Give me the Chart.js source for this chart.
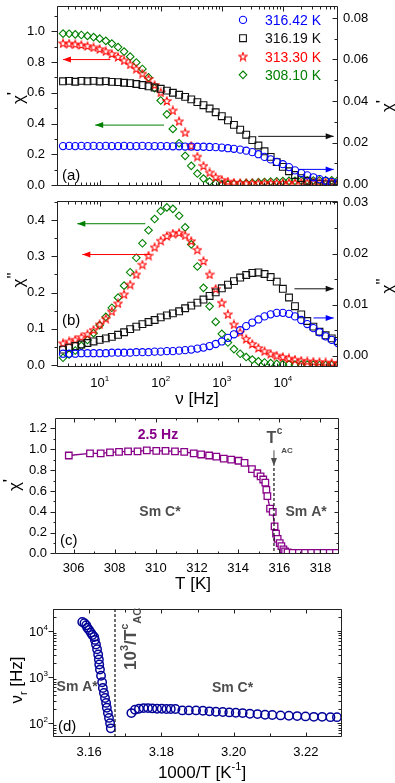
<!DOCTYPE html>
<html lang="en">
<head>
<meta charset="UTF-8">
<title>AC susceptibility</title>
<script src="https://cdn.jsdelivr.net/npm/chart.js"></script>
<style>
  body { margin: 0; background: #fff; }
  #fig { position: relative; width: 395px; height: 783px; }
  #fig canvas { position: absolute; left: 0; }
</style>
</head>
<body>
<div id="fig">
  <canvas id="chartA" width="395" height="195" style="top:0"></canvas>
  <canvas id="chartB" width="395" height="215" style="top:195px"></canvas>
  <canvas id="chartC" width="395" height="185" style="top:410px"></canvas>
  <canvas id="chartD" width="395" height="188" style="top:595px"></canvas>
</div>
<script>
// ---- data ----
const freqHz = [2.51, 3.16, 3.98, 5.01, 6.31, 7.94,
  10.0, 12.6, 15.8, 20.0, 25.1, 31.6, 39.8, 50.1, 63.1, 79.4,
  100, 126, 158, 200, 251, 316, 398, 501, 631, 794,
  1000, 1260, 1580, 2000, 2510, 3160, 3980, 5010, 6310, 7940,
  10000, 12600, 15800, 20000, 25100, 31600, 39800, 50100, 63100, 79400];

// (a) chi' vs frequency
const chiRe_31642 = [0.0183, 0.0184, 0.0183, 0.0184, 0.0183, 0.0184,
  0.0183, 0.0184, 0.0183, 0.0183, 0.0184, 0.0183, 0.0183, 0.0184, 0.0183, 0.0183,
  0.0183, 0.0183, 0.0182, 0.0182, 0.0181, 0.0181, 0.0180, 0.0180, 0.0179, 0.0178,
  0.0176, 0.0173, 0.0170, 0.0166, 0.0161, 0.0154, 0.0144, 0.0131, 0.0119, 0.0107,
  0.0096, 0.0082, 0.0066, 0.0053, 0.0042, 0.0033, 0.0024, 0.0016, 0.0010, 0.0005];
const chiRe_31619 = [0.0495, 0.0497, 0.0493, 0.0497, 0.0495, 0.0497,
  0.0494, 0.0496, 0.0492, 0.0491, 0.0488, 0.0486, 0.0482, 0.0477, 0.0471, 0.0465,
  0.0459, 0.0450, 0.0440, 0.0430, 0.0420, 0.0408, 0.0395, 0.0380, 0.0364, 0.0346,
  0.0327, 0.0307, 0.0285, 0.0262, 0.0238, 0.0212, 0.0186, 0.0158, 0.0131, 0.0106,
  0.0083, 0.0062, 0.0044, 0.0029, 0.0016, 0.0007, 0.0002, -0.0001, -0.0002, -0.0002];
const chiRe_31330 = [0.922, 0.920, 0.916, 0.911, 0.904, 0.895,
  0.884, 0.870, 0.853, 0.833, 0.810, 0.784, 0.756, 0.725, 0.690, 0.650,
  0.602, 0.547, 0.485, 0.415, 0.342, 0.255, 0.185, 0.125, 0.082, 0.052,
  0.034, 0.023, 0.016, 0.013, 0.012, 0.012, 0.012, 0.013, 0.013, 0.014,
  0.014, 0.015, 0.015, 0.016, 0.016, 0.017, 0.017, 0.018, 0.018, 0.019];
const chiRe_30810 = [0.985, 0.984, 0.980, 0.976, 0.970, 0.962,
  0.952, 0.938, 0.920, 0.897, 0.868, 0.835, 0.797, 0.755, 0.700, 0.630,
  0.550, 0.460, 0.365, 0.272, 0.190, 0.125, 0.075, 0.042, 0.022, 0.011,
  0.006, 0.006, 0.008, 0.010, 0.013, 0.015, 0.018, 0.020, 0.022, 0.024,
  0.026, 0.027, 0.028, 0.029, 0.030, 0.030, 0.031, 0.031, 0.031, 0.031];

// (b) chi'' vs frequency
const chiIm_31642 = [0.0004, 0.0004, 0.0004, 0.0005, 0.0005, 0.0005,
  0.0005, 0.0005, 0.0006, 0.0006, 0.0006, 0.0006, 0.0007, 0.0007, 0.0007, 0.0008,
  0.0008, 0.0009, 0.0009, 0.0010, 0.0011, 0.0012, 0.0014, 0.0016, 0.0019, 0.0023,
  0.0028, 0.0035, 0.0042, 0.0050, 0.0058, 0.0065, 0.0071, 0.0077, 0.0081, 0.0084,
  0.0084, 0.0082, 0.0077, 0.0070, 0.0062, 0.0054, 0.0046, 0.0038, 0.0031, 0.0025];
const chiIm_31619 = [0.0012, 0.0016, 0.0019, 0.0022, 0.0025, 0.0028,
  0.0031, 0.0034, 0.0037, 0.0041, 0.0046, 0.0052, 0.0057, 0.0062, 0.0066, 0.0070,
  0.0075, 0.0079, 0.0083, 0.0087, 0.0093, 0.0098, 0.0104, 0.0110, 0.0117, 0.0124,
  0.0132, 0.0139, 0.0146, 0.0153, 0.0158, 0.0162, 0.0163, 0.0160, 0.0154, 0.0145,
  0.0131, 0.0114, 0.0097, 0.0081, 0.0068, 0.0057, 0.0047, 0.0040, 0.0034, 0.0029];
const chiIm_31330 = [0.060, 0.065, 0.070, 0.077, 0.085, 0.097,
  0.112, 0.128, 0.148, 0.170, 0.195, 0.222, 0.250, 0.277, 0.302, 0.325,
  0.343, 0.356, 0.363, 0.365, 0.358, 0.342, 0.318, 0.287, 0.250, 0.210,
  0.172, 0.140, 0.112, 0.090, 0.072, 0.058, 0.047, 0.038, 0.031, 0.026,
  0.022, 0.018, 0.015, 0.012, 0.010, 0.009, 0.008, 0.007, 0.006, 0.005];
const chiIm_30810 = [0.020, 0.029, 0.040, 0.053, 0.069, 0.088,
  0.110, 0.133, 0.158, 0.186, 0.219, 0.256, 0.296, 0.336, 0.372, 0.403,
  0.425, 0.435, 0.431, 0.412, 0.380, 0.333, 0.272, 0.213, 0.162, 0.119,
  0.086, 0.062, 0.044, 0.031, 0.022, 0.015, 0.010, 0.007, 0.005, 0.003,
  0.002, 0.002, 0.001, 0.001, 0.001, 0.001, 0.000, 0.000, 0.000, 0.000];

// (c) chi' at 2.5 Hz vs temperature
const tempK = [305.77, 306.80, 307.32, 307.77, 308.21, 308.65, 309.11, 309.56, 310.02, 310.47,
  310.93, 311.38, 311.84, 312.20, 312.59, 312.94, 313.30, 313.66, 314.02, 314.31,
  314.67, 314.93, 315.09, 315.22, 315.32, 315.37, 315.42, 315.55, 315.68, 315.77,
  315.84, 315.92, 316.02, 316.10, 316.20, 316.28, 316.40, 316.65, 316.95, 317.25,
  317.55, 317.85, 318.15, 318.45, 318.75];
const chiRe_2p5Hz = [0.94, 0.96, 0.96, 0.97, 0.975, 0.98, 0.98, 0.99, 0.985, 0.985,
  0.98, 0.975, 0.96, 0.95, 0.94, 0.93, 0.91, 0.90, 0.89, 0.87,
  0.81, 0.77, 0.74, 0.71, 0.68, 0.61, 0.55, 0.43, 0.40, 0.26,
  0.19, 0.14, 0.10, 0.07, 0.04, 0.02, 0.01, 0.006, 0.005, 0.005,
  0.005, 0.005, 0.005, 0.005, 0.005];

// (d) relaxation frequency vs 1000/T
const invT_SmA = [3.1581, 3.1587, 3.1592, 3.1595, 3.1600, 3.1605, 3.1609, 3.1614, 3.1616, 3.1619,
  3.1622, 3.1625, 3.1627, 3.1628, 3.1630, 3.1633, 3.1636, 3.1638, 3.1641, 3.1644,
  3.1647, 3.1649, 3.1652, 3.1655, 3.1658, 3.1660];
const nuR_SmA = [15700, 14700, 13300, 11800, 10500, 9200, 8200, 7400, 6400, 5100,
  4000, 3100, 2400, 1870, 1450, 1070, 770, 580, 450, 350,
  275, 215, 165, 130, 100, 77];
const invT_SmC = [3.1717, 3.1727, 3.1738, 3.1751, 3.1763, 3.1775, 3.1788, 3.1801, 3.1814, 3.1826,
  3.1839, 3.1858, 3.1876, 3.1896, 3.1915, 3.1933, 3.1951, 3.1970, 3.1988, 3.2006,
  3.2025, 3.2045, 3.2066, 3.2087, 3.2107, 3.2130, 3.2153, 3.2176, 3.2199, 3.2222,
  3.2245, 3.2268, 3.2286];
const nuR_SmC = [165, 195, 205, 212, 212, 209, 205, 205, 202, 202,
  202, 189, 189, 189, 186, 180, 177, 174, 171, 168,
  165, 160, 157, 152, 150, 147, 145, 142, 140, 137,
  137, 135, 135];

// tick labels
const freqTicks = [10, 100, 1000, 10000];
const chiReTicks = [0.0, 0.2, 0.4, 0.6, 0.8, 1.0];
const chiReTicksRight = [0.00, 0.02, 0.04, 0.06, 0.08];
const chiImTicks = [0.0, 0.1, 0.2, 0.3, 0.4];
const chiImTicksRight = [0.00, 0.01, 0.02, 0.03];
const tempTicks = [306, 308, 310, 312, 314, 316, 318];
const chiTTicks = [0.0, 0.2, 0.4, 0.6, 0.8, 1.0, 1.2];
const invTTicks = [3.16, 3.18, 3.20, 3.22];
const nuTicks = [100, 1000, 10000];

const T_AC = 315.74;

// ---- styling ----
const FONT = "'Liberation Sans', Arial, sans-serif";
const BLUE = '#0000ff', BLACK = '#111111', RED = '#ff0000', GREEN = '#008000';
const PURPLE = '#880088', NAVY = '#000099', GREY = '#4d4d4d';
Chart.defaults.font.family = FONT;
Chart.defaults.color = '#000';

function logMinor(lo, hi) {
  const out = [];
  for (let d = Math.pow(10, Math.floor(Math.log10(lo))); d < hi; d *= 10)
    for (let k = 2; k <= 9; k++) if (k * d >= lo && k * d <= hi) out.push(k * d);
  return out;
}

// rich text: parts = [[text, kind]], kind 0 normal, 1 sup, -1 sub, 2 raised full size; y is centre of caps
function txt(ctx, parts, x, y, o) {
  const size = o.size || 14, w8 = o.bold ? 'bold ' : '';
  const small = p => p[1] === 1 || p[1] === -1;
  const fnt = p => w8 + (small(p) ? Math.round(size * 0.62) : size) + 'px ' + FONT;
  ctx.save();
  ctx.translate(x, y);
  if (o.rot) ctx.rotate(o.rot);
  ctx.fillStyle = o.color || '#000';
  ctx.textBaseline = 'alphabetic';
  ctx.textAlign = 'left';
  let w = 0;
  parts.forEach(p => { ctx.font = fnt(p); w += ctx.measureText(p[0]).width; });
  let cx = o.align === 'left' ? 0 : o.align === 'right' ? -w : -w / 2;
  parts.forEach(p => {
    ctx.font = fnt(p);
    const dy = p[1] === 1 ? -size * 0.45 : p[1] === -1 ? size * 0.3 : p[1] === 2 ? -size * 0.3 : 0;
    ctx.fillText(p[0], cx, size * 0.36 + dy);
    cx += ctx.measureText(p[0]).width;
  });
  ctx.restore();
}

function arrow(ctx, x1, y1, x2, y2, color) {
  ctx.save();
  ctx.strokeStyle = color; ctx.fillStyle = color; ctx.lineWidth = 1;
  ctx.beginPath(); ctx.moveTo(x1, y1); ctx.lineTo(x2, y2); ctx.stroke();
  const a = Math.atan2(y2 - y1, x2 - x1), h = 8, w = 3;
  ctx.beginPath();
  ctx.moveTo(x2, y2);
  ctx.lineTo(x2 - h * Math.cos(a) + w * Math.sin(a), y2 - h * Math.sin(a) - w * Math.cos(a));
  ctx.lineTo(x2 - h * Math.cos(a) - w * Math.sin(a), y2 - h * Math.sin(a) + w * Math.cos(a));
  ctx.closePath(); ctx.fill();
  ctx.restore();
}

function starMark(color) {
  const c = document.createElement('canvas');
  c.width = 10; c.height = 10;
  const g = c.getContext('2d');
  g.strokeStyle = color; g.lineWidth = 1.1;
  g.beginPath();
  for (let k = 0; k < 10; k++) {
    const r = k % 2 ? 1.8 : 4.2, a = -Math.PI / 2 + k * Math.PI / 5;
    g.lineTo(5 + r * Math.cos(a), 5.3 + r * Math.sin(a));
  }
  g.closePath(); g.stroke();
  return c;
}
const STAR = starMark(RED);

function drawMark(ctx, style, x, y, r, color) {
  if (style instanceof HTMLCanvasElement) {
    ctx.drawImage(style, x - style.width / 2, y - style.height / 2);
    return;
  }
  ctx.save();
  ctx.strokeStyle = color; ctx.lineWidth = 1.1;
  ctx.beginPath();
  if (style === 'circle') ctx.arc(x, y, r, 0, 2 * Math.PI);
  else if (style === 'rect') { const h = r * Math.SQRT1_2; ctx.rect(x - h, y - h, 2 * h, 2 * h); }
  else { ctx.moveTo(x, y - r); ctx.lineTo(x + r, y); ctx.lineTo(x, y + r); ctx.lineTo(x - r, y); ctx.closePath(); }
  ctx.stroke();
  ctx.restore();
}

// frame with inward ticks (outward on the left axis)
const framePlugin = {
  id: 'frame',
  afterDatasetsDraw(chart, args, o) {
    if (!o.xMajor) return;
    const ctx = chart.ctx, a = chart.chartArea;
    const xs = chart.scales.x, yl = chart.scales.y, yr = chart.scales.y1;
    const L = Math.round(a.left) + 0.5, R = Math.round(a.right) - 0.5;
    const T = Math.round(a.top) + 0.5, B = Math.round(a.bottom) - 0.5;
    ctx.save();
    ctx.strokeStyle = '#222'; ctx.lineWidth = 1;
    ctx.beginPath();
    ctx.rect(L, T, R - L, B - T);
    const tx = (v, len) => {
      const x = Math.round(xs.getPixelForValue(v)) + 0.5;
      if (x < L - 0.1 || x > R + 0.1) return;
      ctx.moveTo(x, B); ctx.lineTo(x, B - len);
      ctx.moveTo(x, T); ctx.lineTo(x, T + len);
    };
    o.xMajor.forEach(v => tx(v, o.maj));
    o.xMinor.forEach(v => tx(v, o.min));
    const tl = (s, v, len, dir) => {
      const y = Math.round(s.getPixelForValue(v)) + 0.5;
      if (y < T - 0.1 || y > B + 0.1) return;
      ctx.moveTo(L, y); ctx.lineTo(L + dir * len, y);
    };
    const tr = (s, v, len) => {
      const y = Math.round(s.getPixelForValue(v)) + 0.5;
      if (y < T - 0.1 || y > B + 0.1) return;
      ctx.moveTo(R, y); ctx.lineTo(R - len, y);
    };
    o.yMajor.forEach(v => tl(yl, v, o.maj + 1, -1));
    o.yMinor.forEach(v => tl(yl, v, o.min, o.minIn ? 1 : -1));
    if (yr) {
      o.yRMajor.forEach(v => tr(yr, v, o.maj));
      o.yRMinor.forEach(v => tr(yr, v, o.min));
    } else {
      o.yMajor.forEach(v => tr(yl, v, o.maj));
      o.yMinor.forEach(v => tr(yl, v, o.min));
    }
    ctx.stroke();
    ctx.restore();
  }
};
Chart.register(framePlugin);

function fixedTicks(list) { return s => { s.ticks = list.map(v => ({ value: v })); }; }

// pin the box size and drop the label overhang padding so the plot area lands where we want it
function pinBox(horiz, size) {
  return s => {
    if (horiz) s.height = size; else s.width = size;
    s.paddingTop = 0; s.paddingBottom = 0; s.paddingLeft = 0; s.paddingRight = 0;
  };
}

function valueAxis(position, min, max, list, digits, size, padding) {
  return {
    position, min, max,
    afterBuildTicks: fixedTicks(list),
    afterFit: pinBox(position === 'bottom', size),
    ticks: { callback: v => v.toFixed(digits), padding, font: { size: 13 }, color: '#000', autoSkip: false, maxRotation: 0 },
    grid: { display: false, drawTicks: false },
    border: { display: false }
  };
}

function logAxis(position, min, max, size) {
  return {
    type: 'logarithmic', position, min, max,
    afterFit: pinBox(position === 'bottom', size),
    ticks: { display: false },
    grid: { display: false, drawTicks: false },
    border: { display: false }
  };
}

function markers(label, xs, ys, axis, color, style, radius, width) {
  return {
    label, yAxisID: axis,
    data: xs.map((x, i) => ({ x, y: ys[i] })),
    borderColor: color, backgroundColor: 'rgba(0,0,0,0)',
    pointStyle: style, pointRadius: radius, pointBorderWidth: width || 1.1,
    showLine: false
  };
}

const common = { responsive: false, animation: false, devicePixelRatio: 1, events: [] };

// ---- (a) ----
const annA = {
  id: 'annA',
  afterDraw(chart) {
    const ctx = chart.ctx, a = chart.chartArea;
    const X = v => chart.scales.x.getPixelForValue(v);
    const Y = v => chart.scales.y.getPixelForValue(v);
    const Y1 = v => chart.scales.y1.getPixelForValue(v);
    arrow(ctx, X(15), Y(0.816), X(2.5), Y(0.816), RED);
    arrow(ctx, X(113), Y(0.39), X(8.45), Y(0.39), GREEN);
    arrow(ctx, X(3950), Y1(0.023), X(68000), Y1(0.023), BLACK);
    arrow(ctx, X(18000), Y1(0.0071), X(68000), Y1(0.0071), BLUE);
    chart.data.datasets.forEach((d, i) => {
      const yy = a.top + 14 + i * 18.3;
      drawMark(ctx, d.pointStyle, a.right - 95, yy, d.pointRadius, d.borderColor);
      txt(ctx, [[d.label, 0]], a.right - 73, yy, { size: 14, color: d.borderColor, align: 'left' });
    });
    txt(ctx, [['(a)', 0]], a.left + 5, a.bottom - 11, { size: 15, align: 'left' });
    txt(ctx, [['χ', 0], ["'", 2]], 18, 98, { size: 17, rot: -Math.PI / 2 });
    txt(ctx, [['χ', 0], ["'", 2]], 387, 106, { size: 17, rot: -Math.PI / 2 });
  }
};

new Chart(document.getElementById('chartA'), {
  type: 'scatter',
  data: {
    datasets: [
      markers('316.42 K', freqHz, chiRe_31642, 'y1', BLUE, 'circle', 3.6),
      markers('316.19 K', freqHz, chiRe_31619, 'y1', BLACK, 'rect', 4.8),
      markers('313.30 K', freqHz, chiRe_31330, 'y', RED, STAR, 4.2),
      markers('308.10 K', freqHz, chiRe_30810, 'y', GREEN, 'rectRot', 3.8)
    ]
  },
  options: {
    ...common,
    layout: { padding: { top: 1, left: 0, right: 0, bottom: 0 } },
    plugins: {
      legend: { display: false }, tooltip: { enabled: false },
      frame: {
        xMajor: freqTicks, xMinor: logMinor(2, 80000),
        yMajor: chiReTicks, yMinor: [0.1, 0.3, 0.5, 0.7, 0.9, 1.1],
        yRMajor: chiReTicksRight, yRMinor: [0.01, 0.03, 0.05, 0.07],
        maj: 5, min: 3
      }
    },
    scales: {
      x: logAxis('bottom', 2, 80000, 9),
      y: valueAxis('left', -0.006, 1.165, chiReTicks, 1, 57, 12),
      y1: valueAxis('right', -0.0009, 0.0858, chiReTicksRight, 2, 57, 5)
    }
  },
  plugins: [annA]
});

// ---- (b) ----
const annB = {
  id: 'annB',
  afterDraw(chart) {
    const ctx = chart.ctx, a = chart.chartArea;
    const X = v => chart.scales.x.getPixelForValue(v);
    const Y = v => chart.scales.y.getPixelForValue(v);
    const Y1 = v => chart.scales.y1.getPixelForValue(v);
    arrow(ctx, X(56), Y(0.39), X(4.3), Y(0.39), GREEN);
    arrow(ctx, X(68), Y(0.305), X(5.2), Y(0.305), RED);
    arrow(ctx, X(15500), Y1(0.0131), X(68000), Y1(0.0131), BLACK);
    arrow(ctx, X(31800), Y1(0.0074), X(68000), Y1(0.0074), BLUE);
    freqTicks.forEach(v => txt(ctx, [['10', 0], [String(Math.round(Math.log10(v))), 1]], X(v), a.bottom + 15, { size: 13 }));
    txt(ctx, [['(b)', 0]], a.left + 5, a.bottom - 47, { size: 15, align: 'left' });
    txt(ctx, [['χ', 0], ['"', 2]], 18, 85, { size: 17, rot: -Math.PI / 2 });
    txt(ctx, [['χ', 0], ['"', 2]], 387, 91, { size: 17, rot: -Math.PI / 2 });
    txt(ctx, [['ν [Hz]', 0]], 197, 203, { size: 17 });
  }
};

new Chart(document.getElementById('chartB'), {
  type: 'scatter',
  data: {
    datasets: [
      markers('316.42 K', freqHz, chiIm_31642, 'y1', BLUE, 'circle', 3.6),
      markers('316.19 K', freqHz, chiIm_31619, 'y1', BLACK, 'rect', 4.8),
      markers('313.30 K', freqHz, chiIm_31330, 'y', RED, STAR, 4.2),
      markers('308.10 K', freqHz, chiIm_30810, 'y', GREEN, 'rectRot', 3.8)
    ]
  },
  options: {
    ...common,
    layout: { padding: { top: 5, left: 0, right: 0, bottom: 0 } },
    plugins: {
      legend: { display: false }, tooltip: { enabled: false },
      frame: {
        xMajor: freqTicks, xMinor: logMinor(2, 80000),
        yMajor: chiImTicks, yMinor: [0.05, 0.15, 0.25, 0.35, 0.45],
        yRMajor: chiImTicksRight, yRMinor: [0.005, 0.015, 0.025],
        maj: 5, min: 3
      }
    },
    scales: {
      x: logAxis('bottom', 2, 80000, 43),
      y: valueAxis('left', -0.0055, 0.453, chiImTicks, 1, 57, 12),
      y1: valueAxis('right', -0.0022, 0.0303, chiImTicksRight, 2, 57, 5)
    }
  },
  plugins: [annB]
});

// ---- (c) ----
const annC = {
  id: 'annC',
  afterDraw(chart) {
    const ctx = chart.ctx, a = chart.chartArea;
    const X = v => chart.scales.x.getPixelForValue(v);
    const Y = v => chart.scales.y.getPixelForValue(v);
    ctx.save();
    ctx.strokeStyle = '#111'; ctx.lineWidth = 1.2; ctx.setLineDash([3, 2]);
    ctx.beginPath(); ctx.moveTo(X(T_AC), Y(0.82)); ctx.lineTo(X(T_AC), a.bottom); ctx.stroke();
    ctx.restore();
    arrow(ctx, X(T_AC), Y(0.99), X(T_AC), Y(0.84), GREY);
    // T^c_AC label
    ctx.save();
    ctx.font = 'bold 16px ' + FONT;
    const tw = ctx.measureText('T').width;
    ctx.restore();
    const tx = X(315.38), ty = Y(1.12);
    txt(ctx, [['T', 0]], tx, ty, { size: 16, bold: true, color: GREY, align: 'left' });
    txt(ctx, [['c', 0]], tx + tw + 0.5, ty - 6, { size: 10, bold: true, color: GREY, align: 'left' });
    txt(ctx, [['AC', 0]], tx + tw + 5, ty + 13, { size: 8, bold: true, color: GREY, align: 'left' });
    txt(ctx, [['2.5 Hz', 0]], X(310.1), Y(1.15), { size: 14, bold: true, color: PURPLE });
    txt(ctx, [['Sm C*', 0]], X(310.2), Y(0.41), { size: 14, bold: true, color: GREY });
    txt(ctx, [['Sm A*', 0]], X(317.3), Y(0.41), { size: 14, bold: true, color: GREY });
    txt(ctx, [['(c)', 0]], a.left + 5, a.bottom - 14, { size: 15, align: 'left' });
    txt(ctx, [['χ', 0], ["'", 2]], 14, 75, { size: 17, rot: -Math.PI / 2 });
    txt(ctx, [['T [K]', 0]], 193, 173, { size: 17 });
  }
};

new Chart(document.getElementById('chartC'), {
  type: 'scatter',
  data: {
    datasets: [{
      label: '2.5 Hz',
      data: tempK.map((t, i) => ({ x: t, y: chiRe_2p5Hz[i] })),
      showLine: true, borderColor: PURPLE, borderWidth: 1.3,
      pointStyle: 'rect', pointRadius: 4.6, pointBorderWidth: 1.3,
      pointBackgroundColor: '#fff', pointBorderColor: PURPLE
    }]
  },
  options: {
    ...common,
    layout: { padding: { top: 8, left: 0, right: 56, bottom: 0 } },
    plugins: {
      legend: { display: false }, tooltip: { enabled: false },
      frame: {
        xMajor: tempTicks, xMinor: [305, 307, 309, 311, 313, 315, 317],
        yMajor: chiTTicks, yMinor: [0.1, 0.3, 0.5, 0.7, 0.9, 1.1],
        maj: 4, min: 2
      }
    },
    scales: {
      x: valueAxis('bottom', 305.1, 318.9, tempTicks, 0, 41, 7),
      y: valueAxis('left', -0.005, 1.3, chiTTicks, 1, 55, 8)
    }
  },
  plugins: [annC]
});

// ---- (d) ----
const annD = {
  id: 'annD',
  afterDraw(chart) {
    const ctx = chart.ctx, a = chart.chartArea;
    const X = v => chart.scales.x.getPixelForValue(v);
    const Y = v => chart.scales.y.getPixelForValue(v);
    ctx.save();
    ctx.strokeStyle = '#111'; ctx.lineWidth = 1.2; ctx.setLineDash([3, 2]);
    ctx.beginPath(); ctx.moveTo(X(1000 / T_AC), a.top); ctx.lineTo(X(1000 / T_AC), a.bottom); ctx.stroke();
    ctx.restore();
    nuTicks.forEach(v => txt(ctx, [['10', 0], [String(Math.round(Math.log10(v))), 1]], a.left - 5, Y(v), { size: 13, align: 'right' }));
    txt(ctx, [['10', 0], ['3', 1], ['/T', 0], ['c', 1], ['AC', -1]], X(3.1713), 75, { size: 17, bold: true, color: GREY, align: 'left', rot: -Math.PI / 2 });
    txt(ctx, [['Sm A*', 0]], X(3.1567), Y(630), { size: 14, bold: true, color: GREY });
    txt(ctx, [['Sm C*', 0]], X(3.1997), Y(600), { size: 14, bold: true, color: GREY });
    txt(ctx, [['(d)', 0]], a.left + 5, a.bottom - 11, { size: 15, align: 'left' });
    txt(ctx, [['ν', 0], ['r', -1], [' [Hz]', 0]], 16, 85, { size: 17, rot: -Math.PI / 2 });
    txt(ctx, [['1000/T [K', 0], ['-1', 1], [']', 0]], 202, 177, { size: 17 });
  }
};

new Chart(document.getElementById('chartD'), {
  type: 'scatter',
  data: {
    datasets: [
      markers('Sm A*', invT_SmA, nuR_SmA, 'y', NAVY, 'circle', 4.2, 1.5),
      markers('Sm C*', invT_SmC, nuR_SmC, 'y', NAVY, 'circle', 4.2, 1.5)
    ]
  },
  options: {
    ...common,
    layout: { padding: { top: 14, left: 0, right: 53, bottom: 0 } },
    plugins: {
      legend: { display: false }, tooltip: { enabled: false },
      frame: {
        xMajor: invTTicks, xMinor: [3.15, 3.17, 3.19, 3.21, 3.23],
        yMajor: nuTicks, yMinor: logMinor(50, 30000), minIn: true,
        maj: 4, min: 3
      }
    },
    scales: {
      x: valueAxis('bottom', 3.15, 3.23, invTTicks, 2, 46, 8),
      y: logAxis('left', 50, 30000, 53)
    }
  },
  plugins: [annD]
});
</script>
</body>
</html>
